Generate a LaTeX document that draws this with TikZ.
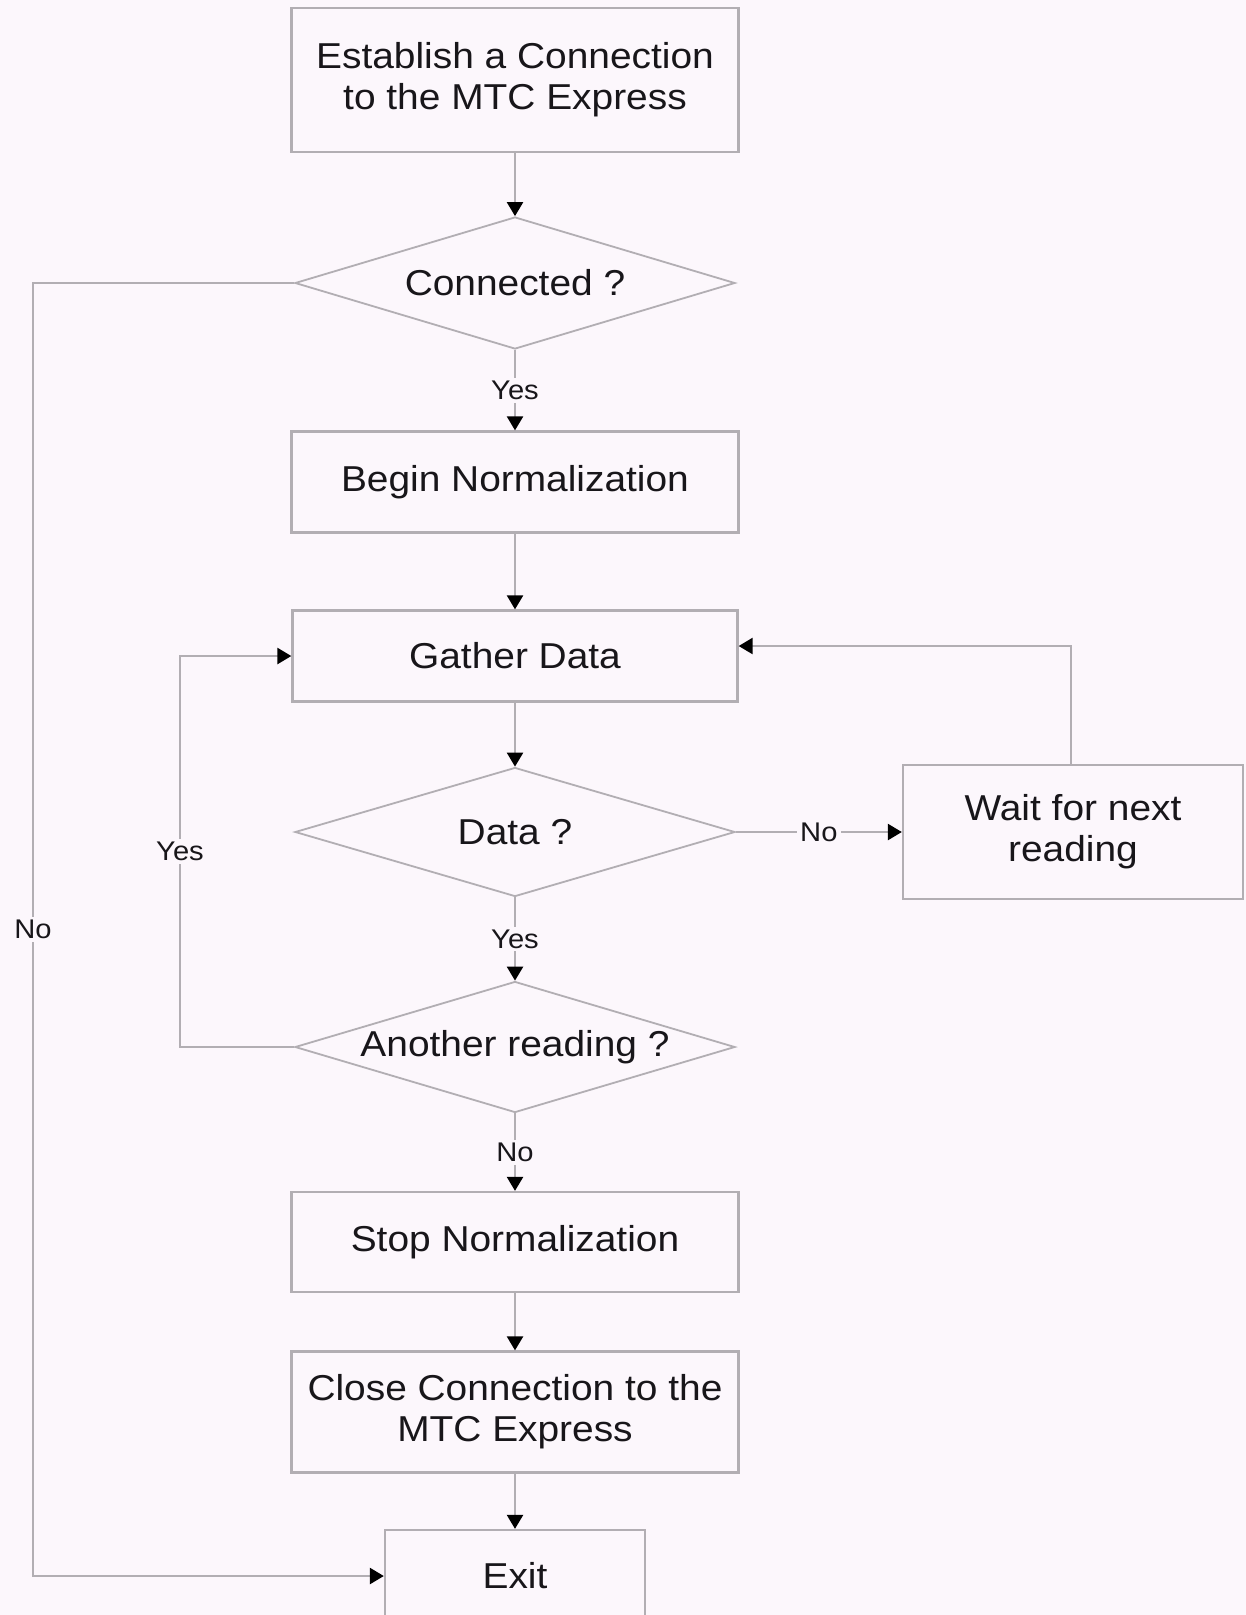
\documentclass[tikz,border=0pt]{standalone}
\usepackage{fontspec}
\setmainfont[FakeStretch=1.08]{Liberation Sans}
\usetikzlibrary{shapes.geometric,arrows.meta}
\definecolor{bg}{RGB}{252,247,252}
\definecolor{edge}{RGB}{178,174,179}
\definecolor{ink}{RGB}{24,22,26}
\begin{document}
\begin{tikzpicture}[x=1pt,y=-1pt,
  every node/.style={text=ink},
  stepbox/.style={draw=edge,line width=2.3pt,rectangle,fill=bg,align=center,
    font=\fontsize{36}{41}\selectfont,inner sep=0pt},
  decision/.style={draw=edge,line width=1.8pt,diamond,inner sep=0pt,
    minimum width=440,minimum height=132,font=\fontsize{36}{41}\selectfont},
  flow/.style={draw=edge,line width=2.4pt,-{Triangle[length=14pt,width=16pt,color=black]}},
  tag/.style={fill=bg,inner sep=3pt,font=\fontsize{27}{30}\selectfont}]
  \useasboundingbox[fill=bg] (0,0) rectangle (1246,1615);

  % main column
  \node[stepbox,minimum width=447,minimum height=144] (b1) at (515,80)
    {Establish a Connection\\to the MTC Express};
  \node[decision] (d1) at (515,283) {\makebox[0pt]{Connected ?}};
  \node[stepbox,minimum width=447,minimum height=101] (b2) at (515,482)
    {Begin Normalization};
  \node[stepbox,minimum width=445,minimum height=91] (b3) at (515,656)
    {Gather Data};
  \node[decision,minimum height=129] (d2) at (515,832) {\makebox[0pt]{Data ?}};
  \node[decision,minimum height=131] (d3) at (515,1047)
    {\makebox[0pt]{Another reading ?}};
  \node[stepbox,minimum width=447,minimum height=100] (b5) at (515,1242)
    {Stop Normalization};
  \node[stepbox,minimum width=447,minimum height=121] (b6) at (515,1412)
    {Close Connection to the\\MTC Express};
  \node[stepbox,minimum width=260,minimum height=92] (b7) at (515,1576) {Exit};

  % side step
  \node[stepbox,minimum width=340,minimum height=134] (b4) at (1073,832)
    {Wait for next\\reading};

  % straight flow
  \draw[flow] (b1) -- (d1);
  \draw[flow] (d1) -- node[tag] {Yes} (b2);
  \draw[flow] (b2) -- (b3);
  \draw[flow] (b3) -- (d2);
  \draw[flow] (d2) -- node[tag] {Yes} (d3);
  \draw[flow] (d3) -- node[tag] {No} (b5);
  \draw[flow] (b5) -- (b6);
  \draw[flow] (b6) -- (b7);

  % branches
  \draw[flow] (d2.east) -- node[tag,pos=0.5] {No} (b4.west);
  \draw[flow] ([xshift=-2pt]b4.north) |- ([yshift=10pt]b3.east);
  \draw[flow] (d3.west) -- (180,1047) |- node[tag,pos=0.25] {Yes} (b3.west);
  \draw[flow] (d1.west) -- (33,283) |- node[tag,pos=0.25] {No} (b7.west);
\end{tikzpicture}
\end{document}
